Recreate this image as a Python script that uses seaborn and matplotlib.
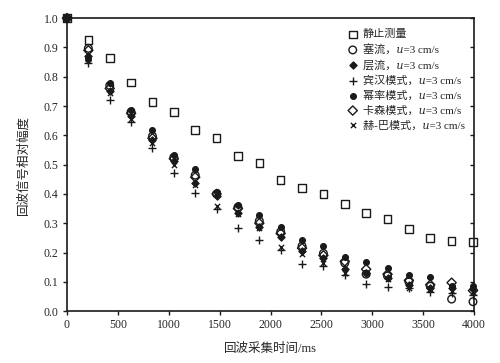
import numpy as np
import pandas as pd
import matplotlib
matplotlib.use("Agg")
import matplotlib.pyplot as plt
import seaborn as sns

time_ms = [0, 210, 420, 630, 840, 1050, 1260, 1470, 1680, 1890, 2100, 2310, 2520, 2730, 2940, 3150, 3360, 3570, 3780, 3990]

static = [1.0, 0.925, 0.863, 0.78, 0.713, 0.68, 0.618, 0.59, 0.529, 0.505, 0.447, 0.42, 0.40, 0.365, 0.334, 0.314, 0.28, 0.249, 0.239, 0.235]
plug = [1.0, 0.897, 0.77, 0.68, 0.597, 0.525, 0.464, 0.40, 0.355, 0.308, 0.271, 0.222, 0.197, 0.164, 0.126, 0.12, 0.10, 0.085, 0.041, 0.032]
laminar = [1.0, 0.87, 0.752, 0.665, 0.584, 0.512, 0.437, 0.393, 0.334, 0.287, 0.254, 0.205, 0.18, 0.145, 0.13, 0.113, 0.09, 0.078, 0.08, 0.075]
binghamp = [1.0, 0.848, 0.72, 0.646, 0.557, 0.47, 0.404, 0.35, 0.285, 0.242, 0.21, 0.16, 0.153, 0.123, 0.092, 0.083, 0.078, 0.066, 0.061, 0.055]
power = [1.0, 0.862, 0.78, 0.688, 0.618, 0.532, 0.484, 0.407, 0.362, 0.328, 0.286, 0.242, 0.222, 0.183, 0.166, 0.146, 0.123, 0.115, 0.085, 0.085]
casson = [1.0, 0.89, 0.76, 0.675, 0.59, 0.52, 0.457, 0.40, 0.35, 0.30, 0.265, 0.215, 0.19, 0.17, 0.143, 0.126, 0.105, 0.09, 0.097, 0.07]
hb = [1.0, 0.86, 0.745, 0.655, 0.575, 0.50, 0.43, 0.36, 0.33, 0.285, 0.22, 0.195, 0.165, 0.13, 0.13, 0.11, 0.078, 0.075, 0.07, 0.065]

labels = ["静止测量", "塞流，\U0001D462=3 cm/s", "层流，\U0001D462=3 cm/s", "宾汉模式，\U0001D462=3 cm/s",
          "幂率模式，\U0001D462=3 cm/s", "卡森模式，\U0001D462=3 cm/s", "赫-巴模式，\U0001D462=3 cm/s"]
xticks = [0, 500, 1000, 1500, 2000, 2500, 3000, 3500, 4000]
yticks = [0.0, 0.1, 0.2, 0.3, 0.4, 0.5, 0.6, 0.7, 0.8, 0.9, 1.0]

sns.set_theme(style="ticks")
plt.rcParams['font.family'] = ['Liberation Serif', 'Noto Sans CJK SC', 'DejaVu Serif', 'DejaVu Sans']

fig = plt.figure(figsize=(5.0, 3.63), dpi=100)
ax = fig.add_axes([0.134, 0.143, 0.814, 0.807])

series = [static, plug, laminar, binghamp, power, casson, hb]
styles = [
    dict(marker='s', facecolor='none', edgecolor='k', s=30, linewidth=1.0),
    dict(marker='o', facecolor='none', edgecolor='k', s=30, linewidth=1.0),
    dict(marker='D', facecolor='k', edgecolor='k', s=14, linewidth=0.8),
    dict(marker='+', color='k', s=36, linewidth=1.0),
    dict(marker='o', facecolor='k', edgecolor='k', s=18, linewidth=0.8),
    dict(marker='D', facecolor='none', edgecolor='k', s=22, linewidth=1.0),
    dict(marker='x', color='k', s=14, linewidth=1.0),
]

for vals, lab, st in zip(series, labels, styles):
    df = pd.DataFrame({"t": time_ms, "v": vals})
    sns.scatterplot(data=df, x="t", y="v", ax=ax, label=lab, zorder=3, clip_on=False, **st)

ax.set_xlim(0, 4000)
ax.set_ylim(0.0, 1.0)
ax.set_xticks(xticks)
ax.set_yticks(yticks)
ax.set_xticklabels([str(t) for t in xticks])
ax.set_yticklabels([f"{t:.1f}" for t in yticks])
ax.tick_params(axis='both', labelsize=8.5, length=3, width=1, color='k', pad=3, direction='out')
for sp in ax.spines.values():
    sp.set_color('k')
    sp.set_linewidth(1.2)
ax.set_xlabel("回波采集时间/ms", fontsize=9, labelpad=8)
ax.set_ylabel("回波信号相对幅度", fontsize=9, labelpad=10)

ax2 = ax.twinx()
ax2.set_ylim(0.0, 1.0)
ax2.set_yticks(yticks)
ax2.tick_params(axis='y', direction='in', length=3, width=1, color='k', labelright=False)
ax2.grid(False)
for sp in ax2.spines.values():
    sp.set_visible(False)

leg = ax.legend(loc='upper left', bbox_to_anchor=(0.672, 0.985), frameon=False, fontsize=8,
                handletextpad=0.4, labelspacing=0.42, borderaxespad=0.2, handlelength=1.0)

fig.savefig("out.png", dpi=100)
